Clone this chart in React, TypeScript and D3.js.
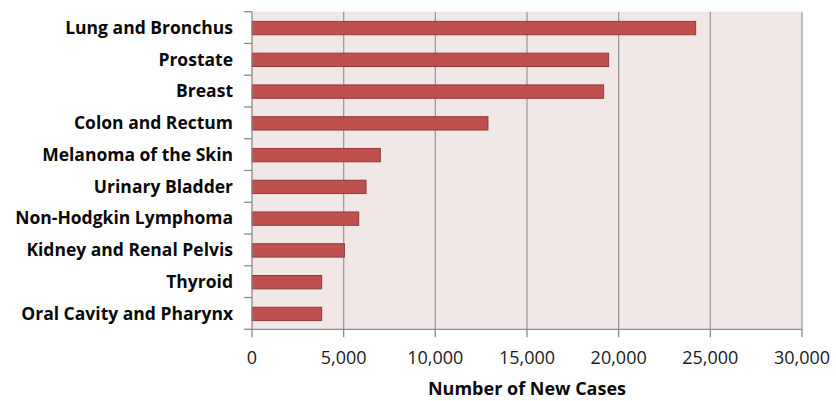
import React, { useEffect, useRef } from 'react';
import * as d3 from 'd3';

const categories = [
  'Lung and Bronchus',
  'Prostate',
  'Breast',
  'Colon and Rectum',
  'Melanoma of the Skin',
  'Urinary Bladder',
  'Non-Hodgkin Lymphoma',
  'Kidney and Renal Pelvis',
  'Thyroid',
  'Oral Cavity and Pharynx',
];
const newCases = [24200, 19450, 19180, 12870, 7000, 6220, 5820, 5040, 3800, 3800];
const xTicks = [0, 5000, 10000, 15000, 20000, 25000, 30000];
const xTitle = 'Number of New Cases';

const App: React.FC = () => {
  const svgRef = useRef<SVGSVGElement>(null);

  useEffect(() => {
    if (!svgRef.current) return;
    d3.select(svgRef.current).selectAll('*').remove();

    const width = 836;
    const height = 401;
    const left = 252;
    const right = 802;
    const top = 11.7;
    const bottom = 329.3;
    const font = '"Open Sans", sans-serif';

    const svg = d3.select(svgRef.current)
      .attr('width', width)
      .attr('height', height);

    const x = d3.scaleLinear().domain([0, 30000]).range([left, right]);
    const y = d3.scaleBand<string>().domain(categories).range([top, bottom]).padding(0);
    const barH = y.bandwidth() * 0.42;

    // plot background
    svg.append('rect')
      .attr('x', left)
      .attr('y', top)
      .attr('width', right - left)
      .attr('height', bottom - top)
      .attr('fill', '#f2e7e7');

    // vertical gridlines
    svg.selectAll('line.grid')
      .data(xTicks.slice(1))
      .enter()
      .append('line')
      .attr('class', 'grid')
      .attr('x1', d => x(d))
      .attr('x2', d => x(d))
      .attr('y1', top)
      .attr('y2', bottom)
      .attr('stroke', '#9c9c9c')
      .attr('stroke-width', 1.3);

    // bars
    svg.selectAll('rect.bar')
      .data(categories)
      .enter()
      .append('rect')
      .attr('class', 'bar')
      .attr('x', x(0))
      .attr('y', d => (y(d) as number) + (y.bandwidth() - barH) / 2 + 0.5)
      .attr('width', (d, i) => x(newCases[i]) - x(0))
      .attr('height', barH)
      .attr('fill', '#c0504d')
      .attr('stroke', '#8e3b39')
      .attr('stroke-width', 1);

    // y axis line and ticks
    svg.append('line')
      .attr('x1', left).attr('x2', left)
      .attr('y1', top).attr('y2', bottom)
      .attr('stroke', '#8c8c8c').attr('stroke-width', 1.3);

    const yBounds = categories.map(c => y(c) as number).concat([bottom]);
    svg.selectAll('line.ytick')
      .data(yBounds)
      .enter()
      .append('line')
      .attr('class', 'ytick')
      .attr('x1', left - 8).attr('x2', left)
      .attr('y1', d => d).attr('y2', d => d)
      .attr('stroke', '#8c8c8c').attr('stroke-width', 1.3);

    // x axis line and ticks
    svg.append('line')
      .attr('x1', left).attr('x2', right)
      .attr('y1', bottom).attr('y2', bottom)
      .attr('stroke', '#8c8c8c').attr('stroke-width', 1.3);

    svg.selectAll('line.xtick')
      .data(xTicks)
      .enter()
      .append('line')
      .attr('class', 'xtick')
      .attr('x1', d => x(d)).attr('x2', d => x(d))
      .attr('y1', bottom).attr('y2', bottom + 8)
      .attr('stroke', '#8c8c8c').attr('stroke-width', 1.3);

    // category labels
    svg.selectAll('text.cat')
      .data(categories)
      .enter()
      .append('text')
      .attr('class', 'cat')
      .attr('x', 233)
      .attr('y', d => (y(d) as number) + y.bandwidth() / 2 + 6.3)
      .attr('text-anchor', 'end')
      .attr('font-family', font)
      .attr('font-weight', 'bold')
      .attr('font-size', 17.5)
      .attr('fill', '#0a0a0a')
      .text(d => d);

    // x tick labels
    const fmt = d3.format(',');
    svg.selectAll('text.xlab')
      .data(xTicks)
      .enter()
      .append('text')
      .attr('class', 'xlab')
      .attr('x', d => x(d))
      .attr('y', 364)
      .attr('text-anchor', 'middle')
      .attr('font-family', font)
      .attr('font-size', 18)
      .attr('fill', '#1a1a1a')
      .text(d => fmt(d));

    // axis title
    svg.append('text')
      .attr('x', (left + right) / 2)
      .attr('y', 395)
      .attr('text-anchor', 'middle')
      .attr('font-family', font)
      .attr('font-weight', 'bold')
      .attr('font-size', 18)
      .attr('fill', '#0a0a0a')
      .text(xTitle);
  }, []);

  return (
    <div style={{ position: 'absolute', left: 0, top: 0, background: '#fff' }}>
      <svg ref={svgRef} style={{ display: 'block' }}></svg>
    </div>
  );
};

export default App;
